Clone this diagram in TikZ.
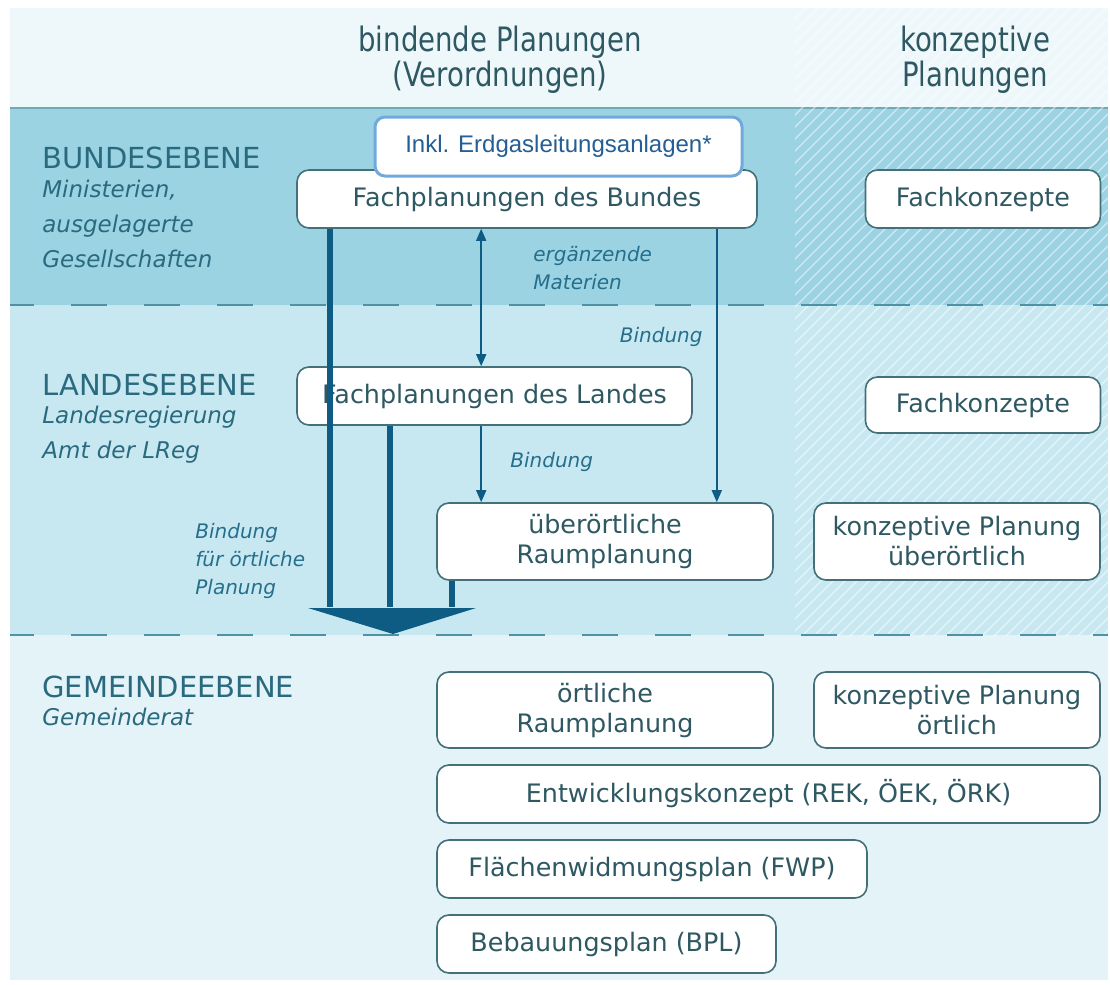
\documentclass[tikz,border=0pt]{standalone}
\usepackage{fontspec}
\setmainfont{DejaVu Sans}
\newfontfamily\headfont[FakeStretch=0.82]{DejaVu Sans}
\newfontfamily\notefont{Liberation Sans}
\usepackage{xcolor}
\usetikzlibrary{arrows.meta, positioning, calc}

\definecolor{headbg}{HTML}{EEF8FB}
\definecolor{bundbg}{HTML}{9BD3E3}
\definecolor{landbg}{HTML}{C8E8F1}
\definecolor{gembg}{HTML}{E3F3F8}
\definecolor{sepline}{HTML}{4E93A5}
\definecolor{boxline}{HTML}{44707A}
\definecolor{boxtext}{HTML}{2E5862}
\definecolor{leveltext}{HTML}{2A6A7E}
\definecolor{tagtext}{HTML}{256F8C}
\definecolor{arrowblue}{HTML}{0E5C84}
\definecolor{noteline}{HTML}{72A9DC}
\definecolor{notetext}{HTML}{245E94}

\tikzset{
  planbox/.style={rectangle, rounded corners=6pt, draw=boxline, line width=0.8pt, fill=white,
                  inner sep=0pt, align=center, text=boxtext, font=\fontsize{12.7}{15}\selectfont},
  notebox/.style={rectangle, rounded corners=5pt, draw=noteline, line width=1.5pt, fill=white,
                  inner sep=0pt, text=notetext, font=\notefont\fontsize{12}{14}\selectfont},
  levelname/.style={anchor=west, inner sep=0pt, text=leveltext, font=\fontsize{14.5}{16}\selectfont},
  levelsub/.style={anchor=north west, inner sep=0pt, align=left, text=leveltext,
                   font=\fontsize{11.5}{17.5}\selectfont\itshape},
  tag/.style={inner sep=0pt, align=left, text=tagtext, font=\fontsize{10}{14}\selectfont\itshape},
  colhead/.style={align=center, inner sep=0pt, text=boxtext, font=\headfont\fontsize{16.8}{17.5}\selectfont},
  thickline/.style={draw=arrowblue, line width=2.8pt},
  thinarrow/.style={draw=arrowblue, line width=0.8pt, -{Triangle[length=6pt,width=5pt]}},
  levelsep/.style={draw=sepline, line width=1.2pt, dash pattern=on 18pt off 18.5pt, dash phase=6pt},
}

\begin{document}
\begin{tikzpicture}[x=0.5pt, y=-0.5pt]

  \useasboundingbox (0,0) rectangle (1110,985);

  %% bands
  \fill[headbg] (10,8) rectangle (1108,108);
  \fill[bundbg] (10,108) rectangle (1108,305);
  \fill[landbg] (10,305) rectangle (1108,635);
  \fill[gembg] (10,635) rectangle (1108,980);
  \draw[sepline!80, line width=1pt] (10,108) -- (1108,108);

  %% hatched column (konzeptive Planungen)
  \begin{scope}
    \clip (795,8) rectangle (1108,635);
    \foreach \s in {150,162,...,1110}
      \draw[white, opacity=0.55, line width=0.6pt] (\s,640) -- ++(640,-640);
  \end{scope}

  \draw[levelsep] (10,305) -- (1108,305);
  \draw[levelsep] (10,635) -- (1108,635);

  %% column heads
  \node[colhead] (hbind) at (500,60) {bindende Planungen\\(Verordnungen)};
  \node[colhead] (hkonz) at (975,60) {konzeptive\\Planungen};

  %% levels
  \node[levelname] (bund) at (42,158) {BUNDESEBENE};
  \node[levelsub] (bundsub) at (42,180) {Ministerien,\\ausgelagerte\\Gesellschaften};
  \node[levelname] (land) at (42,385) {LANDESEBENE};
  \node[levelsub] (landsub) at (42,406) {Landesregierung\\Amt der LReg};
  \node[levelname] (gem) at (42,687) {GEMEINDEEBENE};
  \node[levelsub] (gemsub) at (42,708) {Gemeinderat};

  %% boxes
  \node[planbox, minimum width=230pt, minimum height=29pt] (fb) at (527,199) {Fachplanungen des Bundes};
  \node[notebox, minimum width=183.5pt, minimum height=29.5pt] (inkl) at (558.5,146.5) {Inkl. Erdgasleitungsanlagen*};
  \node[planbox, minimum width=117.5pt, minimum height=29pt] (fk1) at (983,199) {Fachkonzepte};
  \node[planbox, minimum width=197.5pt, minimum height=29pt] (fl) at (494.5,396) {Fachplanungen des Landes};
  \node[planbox, minimum width=117.5pt, minimum height=28pt] (fk2) at (983,405) {Fachkonzepte};
  \node[planbox, minimum width=168pt, minimum height=38.5pt] (ue) at (605,541.5) {überörtliche\\Raumplanung};
  \node[planbox, minimum width=143pt, minimum height=38.5pt] (kue) at (957,541.5) {konzeptive Planung\\überörtlich};
  \node[planbox, minimum width=168pt, minimum height=38pt] (oe) at (605,710) {örtliche\\Raumplanung};
  \node[planbox, minimum width=143pt, minimum height=38pt] (ko) at (957,710) {konzeptive Planung\\örtlich};
  \node[planbox, minimum width=331.5pt, minimum height=29pt] (ek) at (768.5,794) {Entwicklungskonzept (REK, ÖEK, ÖRK)};
  \node[planbox, minimum width=215pt, minimum height=29pt] (fwp) at (652,869) {Flächenwidmungsplan (FWP)};
  \node[planbox, minimum width=169.5pt, minimum height=29pt] (bpl) at (606.5,944) {Bebauungsplan (BPL)};

  %% Bindung fuer oertliche Planung
  \coordinate (hbase) at (392,607);
  \coordinate (htip) at (393,634);
  \coordinate (b1) at ([xshift=17pt]fb.south west);
  \coordinate (b2) at ([xshift=47pt]fl.south west);
  \coordinate (b3) at ([xshift=8pt]ue.south west);
  \draw[thickline] (b1) -- (b1 |- hbase);
  \draw[thickline] (b2) -- (b2 |- hbase);
  \draw[thickline] (b3) -- (b3 |- hbase);
  \fill[arrowblue] (hbase) ++(-84,1) -- ++(168,0) -- (htip) -- cycle;

  %% thin arrows
  \coordinate (m1) at ([xshift=92.5pt]fb.south west);
  \coordinate (m2) at ([xshift=92.5pt]fl.south west);
  \coordinate (m3) at ([xshift=-20.5pt]fb.south east);
  \draw[thinarrow, {Triangle[length=6pt,width=5pt]}-{Triangle[length=6pt,width=5pt]}] (m1) -- (m1 |- fl.north);
  \draw[thinarrow] (m2) -- (m2 |- ue.north);
  \draw[thinarrow] (m3) -- (m3 |- ue.north);

  %% labels
  \node[tag, anchor=west] (erg) at (533,268) {ergänzende\\Materien};
  \node[tag, anchor=east] (bd1) at (703,337) {Bindung};
  \node[tag, anchor=west] (bd2) at (510,462) {Bindung};
  \node[tag, anchor=west] (bdo) at (195,561) {Bindung\\für örtliche\\Planung};

\end{tikzpicture}
\end{document}
